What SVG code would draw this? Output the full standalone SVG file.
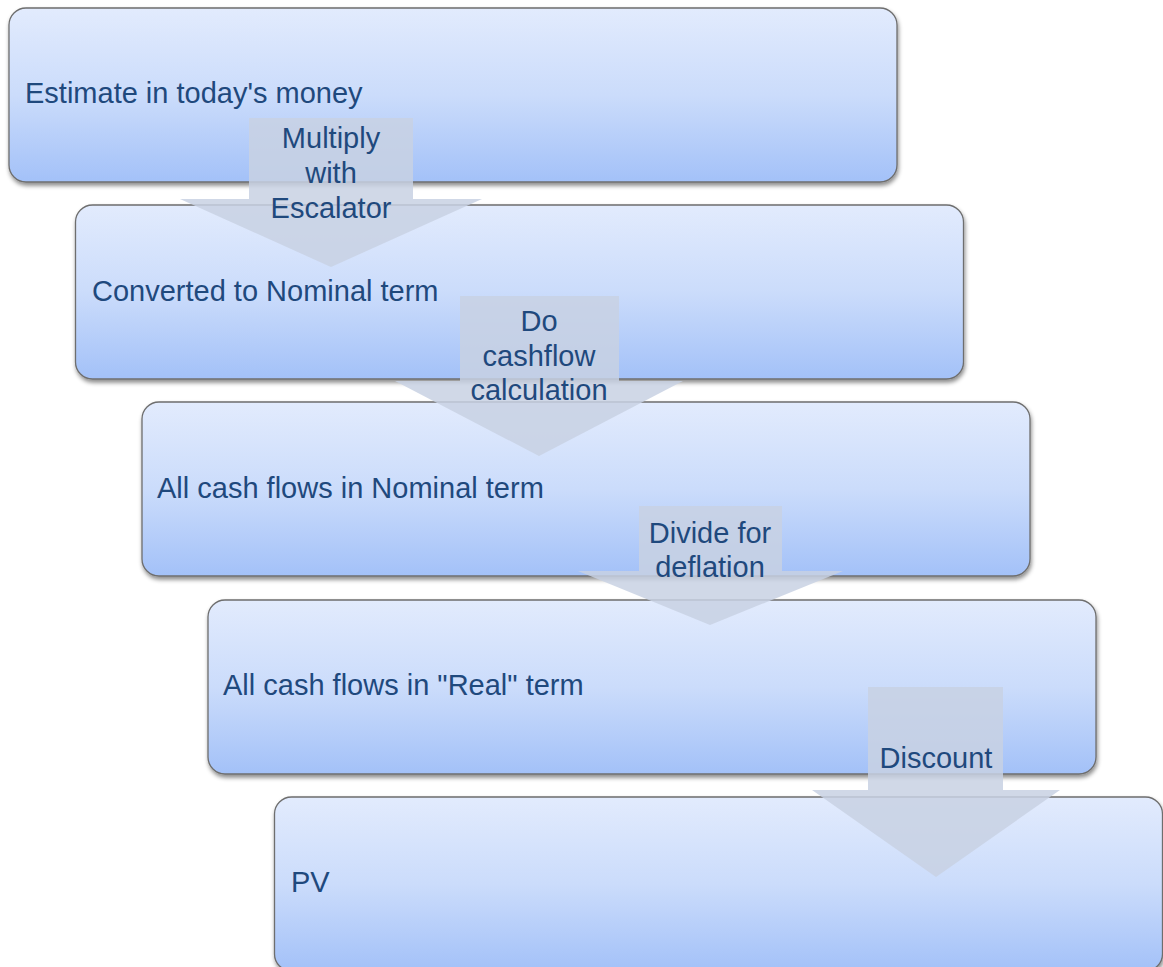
<svg xmlns="http://www.w3.org/2000/svg" width="1163" height="967" viewBox="0 0 1163 967">
<defs>
<linearGradient id="boxGrad" x1="0" y1="0" x2="0" y2="1">
<stop offset="0" stop-color="#E2EBFD"/>
<stop offset="0.5" stop-color="#CBDCFB"/>
<stop offset="1" stop-color="#A3C1F8"/>
</linearGradient>
<filter id="shadow" x="-5%" y="-10%" width="110%" height="125%">
<feDropShadow dx="1" dy="3" stdDeviation="2.2" flood-color="#000" flood-opacity="0.45"/>
</filter>
<style>
.box{fill:url(#boxGrad);stroke:#6E6E6E;stroke-width:1.3;filter:url(#shadow)}
.lbl{font-family:"Liberation Sans",Arial,sans-serif;font-size:29px;fill:#1F497D}
.arr{fill:#C8D1E3;fill-opacity:0.85}
.albl{font-family:"Liberation Sans",Arial,sans-serif;font-size:29px;fill:#1F497D;text-anchor:middle}
</style>
</defs>
<rect width="1163" height="967" fill="#FFFFFF"/>
<g id="node1"><rect class="box" x="9" y="8" width="888" height="174" rx="17"/><text class="lbl" x="25" y="103">Estimate in today's money</text></g>
<g id="node2"><rect class="box" x="75.5" y="205" width="888" height="174" rx="17"/><text class="lbl" x="92" y="301">Converted to Nominal term</text></g>
<g id="node3"><rect class="box" x="142" y="402" width="888" height="174" rx="17"/><text class="lbl" x="157" y="498">All cash flows in Nominal term</text></g>
<g id="node4"><rect class="box" x="208" y="600" width="888" height="174" rx="17"/><text class="lbl" x="223" y="695">All cash flows in "Real" term</text></g>
<g id="node5"><rect class="box" x="274.5" y="797" width="888" height="174" rx="17"/><text class="lbl" x="291" y="892">PV</text></g>
<g id="connectors">
<g id="arrow1"><polygon class="arr" points="249,118 413,118 413,199 482,199 331,267 180,199 249,199"/>
<text class="albl" x="331" y="148">Multiply</text><text class="albl" x="331" y="183">with</text><text class="albl" x="331" y="218">Escalator</text></g>
<g id="arrow2"><polygon class="arr" points="460,296 619,296 619,381 683,381 539,456 395,381 460,381"/>
<text class="albl" x="539" y="331">Do</text><text class="albl" x="539" y="366">cashflow</text><text class="albl" x="539" y="400">calculation</text></g>
<g id="arrow3"><polygon class="arr" points="639,506 782,506 782,571 843,571 710,625 578,571 639,571"/>
<text class="albl" x="710" y="543">Divide for</text><text class="albl" x="710" y="577">deflation</text></g>
<g id="arrow4"><polygon class="arr" points="868,687 1003,687 1003,790 1060,790 936,877 812,790 868,790"/>
<text class="albl" x="936" y="768">Discount</text></g>
</g>
</svg>
